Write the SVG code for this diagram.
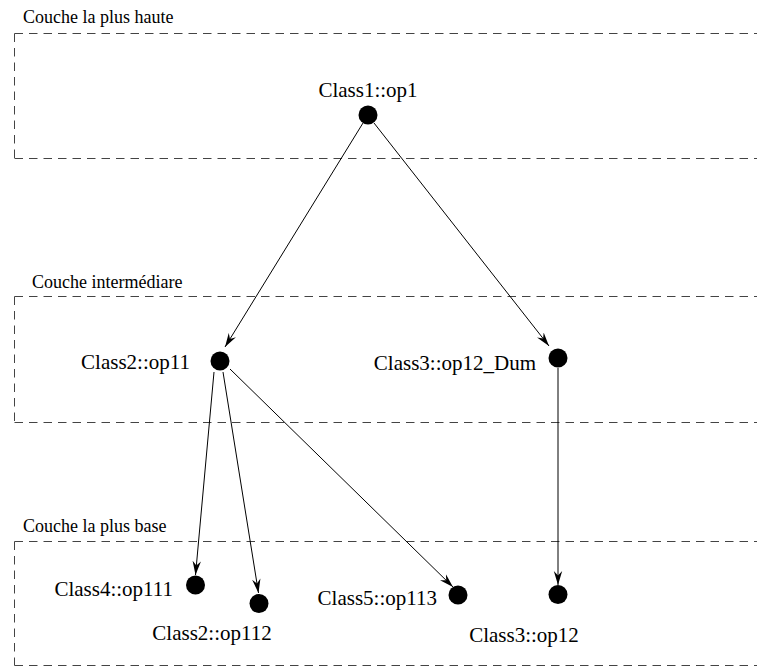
<svg xmlns="http://www.w3.org/2000/svg" width="757" height="668" viewBox="0 0 757 668">
  <style>
    .layer { fill: none; stroke: #444; stroke-width: 1; stroke-dasharray: 8.5 6; }
    .layer-label { font-family: "Liberation Serif", "Times New Roman", serif; font-size: 18px; fill: #000; }
    .node-label { font-family: "Liberation Serif", "Times New Roman", serif; font-size: 21px; fill: #000; }
    .dot { fill: #000; }
    .edge { fill: none; stroke: #000; stroke-width: 1; marker-end: url(#arrow); }
  </style>
  <defs>
    <marker id="arrow" markerUnits="userSpaceOnUse" markerWidth="16" markerHeight="10" viewBox="-14 -5 16 10" refX="0" refY="0" orient="auto">
      <path d="M0,0 L-14,-4.2 L-9.5,0 L-14,4.2 Z" fill="#000"/>
    </marker>
  </defs>
  <rect width="757" height="668" fill="#fff"/>

  <!-- layers -->
  <g id="layers">
    <g id="layer-top">
      <path class="layer" d="M14.5,33.5 H757 M14.5,158.5 H757 M14.5,33.5 V158.5"/>
      <text class="layer-label" x="23" y="23">Couche la plus haute</text>
    </g>
    <g id="layer-middle">
      <path class="layer" d="M14.5,296.5 H757 M14.5,422.5 H757 M14.5,296.5 V422.5"/>
      <text class="layer-label" x="32" y="288">Couche intermédiare</text>
    </g>
    <g id="layer-bottom">
      <path class="layer" d="M14.5,541.5 H757 M14.5,665.5 H757 M14.5,541.5 V665.5"/>
      <text class="layer-label" x="23" y="532">Couche la plus base</text>
    </g>
  </g>

  <!-- connectors -->
  <g id="edges">
    <line class="edge" x1="363" y1="123" x2="225" y2="347"/>
    <line class="edge" x1="374" y1="123" x2="549" y2="346"/>
    <line class="edge" x1="558" y1="368" x2="558" y2="585"/>
    <line class="edge" x1="214" y1="372" x2="195.5" y2="575"/>
    <line class="edge" x1="223" y1="372" x2="258.5" y2="593"/>
    <line class="edge" x1="230" y1="369" x2="453" y2="587"/>
  </g>

  <!-- nodes -->
  <g id="node-class1-op1">
    <circle class="dot" cx="368" cy="115" r="9.5"/>
    <text class="node-label" x="368" y="97" text-anchor="middle">Class1::op1</text>
  </g>
  <g id="node-class2-op11">
    <circle class="dot" cx="220" cy="361" r="9.5"/>
    <text class="node-label" x="190" y="369" text-anchor="end">Class2::op11</text>
  </g>
  <g id="node-class3-op12-dum">
    <circle class="dot" cx="558" cy="358" r="9.5"/>
    <text class="node-label" x="536" y="370" text-anchor="end">Class3::op12_Dum</text>
  </g>
  <g id="node-class4-op111">
    <circle class="dot" cx="195.5" cy="585" r="9.5"/>
    <text class="node-label" x="173" y="596" text-anchor="end">Class4::op111</text>
  </g>
  <g id="node-class2-op112">
    <circle class="dot" cx="259" cy="603.5" r="9.5"/>
    <text class="node-label" x="212" y="640" text-anchor="middle">Class2::op112</text>
  </g>
  <g id="node-class5-op113">
    <circle class="dot" cx="458" cy="595" r="9.5"/>
    <text class="node-label" x="437" y="605" text-anchor="end">Class5::op113</text>
  </g>
  <g id="node-class3-op12">
    <circle class="dot" cx="558" cy="594.5" r="9.5"/>
    <text class="node-label" x="524" y="642" text-anchor="middle">Class3::op12</text>
  </g>
</svg>
